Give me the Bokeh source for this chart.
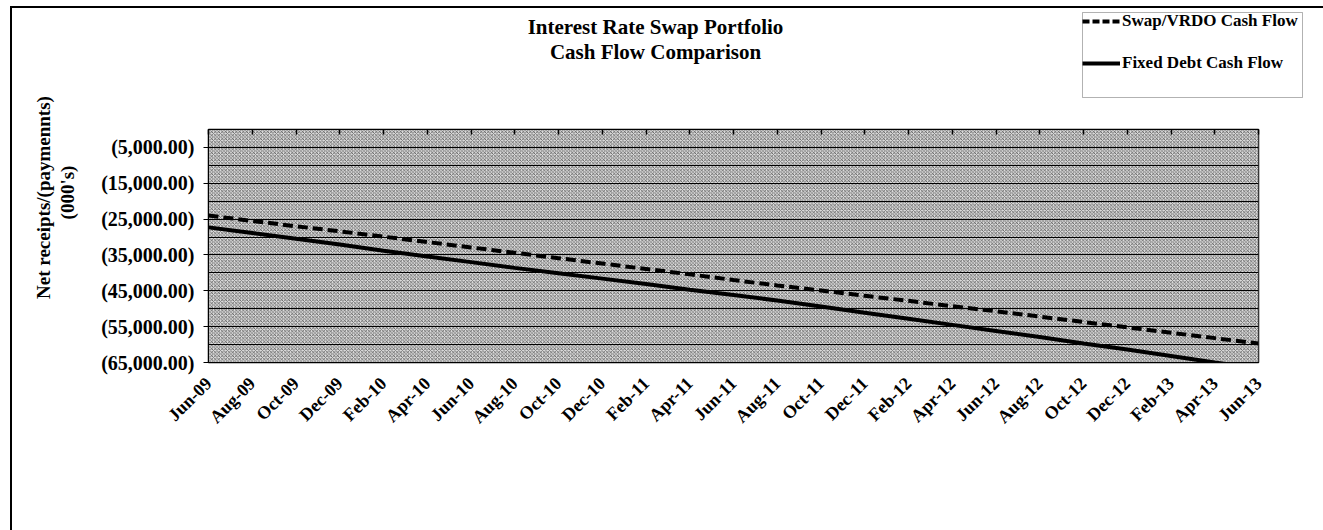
from math import pi
from bokeh.plotting import figure
from bokeh.layouts import row, column
from bokeh.models import (Range1d, FixedTicker, LinearAxis, Legend, LegendItem,
                          BoxAnnotation, Label)
from bokeh.embed import file_html
from bokeh.resources import INLINE

# ---- data ----
x_labels = ["Jun-09", "Aug-09", "Oct-09", "Dec-09", "Feb-10", "Apr-10", "Jun-10", "Aug-10",
            "Oct-10", "Dec-10", "Feb-11", "Apr-11", "Jun-11", "Aug-11", "Oct-11", "Dec-11",
            "Feb-12", "Apr-12", "Jun-12", "Aug-12", "Oct-12", "Dec-12", "Feb-13", "Apr-13",
            "Jun-13"]
swap_vrdo = [-24000, -25500, -27000, -28400, -29900, -31400, -32900, -34400, -35900,
             -37400, -38900, -40400, -42000, -43500, -44900, -46400, -47800, -49300,
             -50700, -52200, -53700, -55200, -56700, -58200, -59700]
fixed_debt = [-27300, -28900, -30500, -32100, -33800, -35400, -37000, -38600, -40100,
              -41600, -43100, -44700, -46200, -47700, -49400, -51100, -52800, -54500,
              -56200, -57900, -59700, -61400, -63200, -65000, -66700]
y_ticks = [-5000, -15000, -25000, -35000, -45000, -55000, -65000]
y_labels = ["(5,000.00)", "(15,000.00)", "(25,000.00)", "(35,000.00)", "(45,000.00)",
            "(55,000.00)", "(65,000.00)"]
grid_ticks = [-5000, -10000, -15000, -20000, -25000, -30000, -35000, -40000, -45000,
              -50000, -55000, -60000]
series_names = ["Swap/VRDO Cash Flow", "Fixed Debt Cash Flow"]
title_lines = ["Interest Rate Swap Portfolio", "Cash Flow Comparison"]
y_title_lines = ["Net receipts/(paymennts)", "(000's)"]

FONT = "Liberation Serif"
xs = list(range(len(x_labels)))

# page geometry (pixels on the page): canvas starts at (12, 8)
X0, Y0, XL, YH, XR, YB = 12, 8, 80, 119, 1323, 530
LW = 4


def blank(w, h, xr, yr):
    f = figure(width=w, height=h, output_backend="svg", toolbar_location=None,
               title_location=None, x_range=xr, y_range=yr, min_border=0,
               outline_line_color=None, background_fill_color="white",
               border_fill_color="white", frame_align=False)
    f.axis.visible = False
    f.grid.visible = False
    return f


# ---- left strip: rotated y-axis title ----
side = blank(XL - X0, YB - Y0, Range1d(X0, XL), Range1d(YB, Y0))
for txt, xv, yv in zip(y_title_lines, [43, 67], [197, 192]):
    side.add_layout(Label(x=xv, y=yv, text=txt, angle=pi / 2, text_font=FONT,
                          text_font_style="bold", text_font_size="19px",
                          text_align="center", text_baseline="middle",
                          text_color="black"))

# ---- header: title and legend ----
head = blank(XR - XL, YH - Y0, Range1d(XL, XR), Range1d(YH, Y0))
for txt, yv in zip(title_lines, [26, 51]):
    head.add_layout(Label(x=655, y=yv, text=txt, text_font=FONT, text_font_style="bold",
                          text_font_size="21px", text_align="center",
                          text_baseline="middle", text_color="black"))
head.add_layout(BoxAnnotation(left=1082, right=1302, top=12, bottom=97,
                              fill_color="white", fill_alpha=1, line_color="black",
                              line_width=1))
# legend keys: the same series drawn in the header (they fall outside its ranges)
k_swap = head.line(xs, swap_vrdo, line_color="black", line_width=LW, line_dash="7 3")
k_fixed = head.line(xs, fixed_debt, line_color="black", line_width=LW)
legend = Legend(items=[LegendItem(label=series_names[0], renderers=[k_swap]),
                       LegendItem(label=series_names[1], renderers=[k_fixed])],
                location=(1082 - XL, YH - 73), orientation="vertical",
                label_text_font=FONT, label_text_font_style="bold",
                label_text_font_size="17px", label_text_color="black",
                glyph_width=38, glyph_height=20, label_height=20, label_standoff=2,
                spacing=22, padding=0, margin=0, border_line_color=None,
                background_fill_alpha=0)
head.add_layout(legend, "center")

# ---- main chart ----
p = figure(width=XR - XL, height=YB - YH, output_backend="svg", toolbar_location=None,
           title_location=None, frame_align=False,
           x_range=Range1d(0, len(x_labels) - 1), y_range=Range1d(-65000, 0),
           min_border_left=208 - XL, min_border_right=XR - 1258, min_border_top=129 - YH,
           min_border_bottom=YB - 362, background_fill_color="#d8d8d8",
           border_fill_color="white", outline_line_color="black", outline_line_width=1.5)

p.add_layout(BoxAnnotation(fill_color="#dcdcdc", fill_alpha=1, line_color=None,
                           hatch_pattern="x", hatch_scale=3.5, hatch_weight=0.8,
                           hatch_color="#333333", hatch_alpha=0.8, level="image"))

p.xgrid.visible = False
p.ygrid.ticker = FixedTicker(ticks=grid_ticks)
p.ygrid.grid_line_color = "black"
p.ygrid.grid_line_width = 1.2

p.yaxis.ticker = FixedTicker(ticks=y_ticks)
p.yaxis.major_label_overrides = {t: l for t, l in zip(y_ticks, y_labels)}
p.yaxis.major_label_text_font = FONT
p.yaxis.major_label_text_font_style = "bold"
p.yaxis.major_label_text_font_size = "20px"
p.yaxis.major_label_text_color = "black"
p.yaxis.major_tick_out = 5
p.yaxis.major_tick_in = 0
p.yaxis.minor_tick_line_color = None
p.yaxis.axis_line_color = "black"
p.yaxis.major_label_standoff = 9

p.xaxis.ticker = FixedTicker(ticks=xs)
p.xaxis.major_label_overrides = {i: l for i, l in zip(xs, x_labels)}
p.xaxis.major_label_orientation = pi / 4
p.xaxis.major_label_text_font = FONT
p.xaxis.major_label_text_font_style = "bold"
p.xaxis.major_label_text_font_size = "18px"
p.xaxis.major_label_text_color = "black"
p.xaxis.major_tick_line_color = None
p.xaxis.minor_tick_line_color = None
p.xaxis.axis_line_color = "black"
p.xaxis.major_label_standoff = 12

top = LinearAxis(ticker=FixedTicker(ticks=xs), major_label_text_color=None,
                 major_label_text_font_size="1px", major_label_standoff=0,
                 major_tick_in=5, major_tick_out=0,
                 minor_tick_line_color=None, axis_line_color="black",
                 major_tick_line_width=1.5)
p.add_layout(top, "above")

p.line(xs, swap_vrdo, line_color="black", line_width=LW, line_dash="10 5")
p.line(xs, fixed_debt, line_color="black", line_width=LW)

layout = row(side, column(head, p, spacing=0), spacing=0,
             styles={"border-top": "2px solid black", "border-left": "2px solid black",
                     "margin-top": "6px", "margin-left": "10px"})

open("out.html", "w").write(file_html(layout, INLINE))
